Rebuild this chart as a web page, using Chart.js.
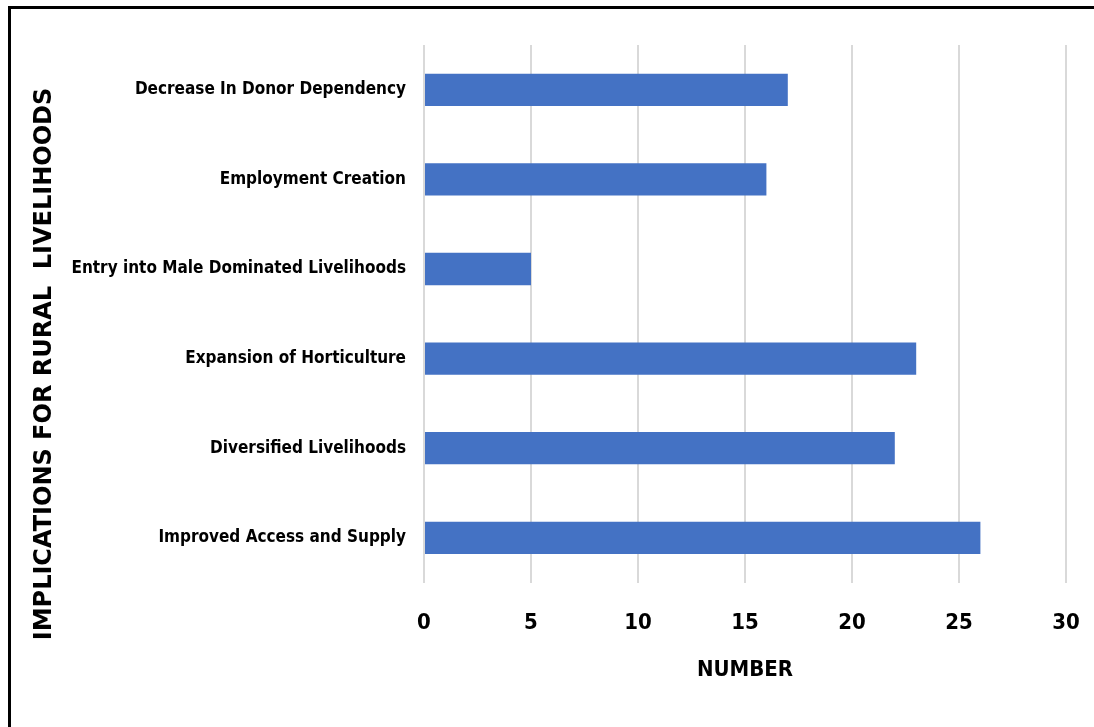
<!DOCTYPE html>
<html>
<head>
<meta charset="utf-8">
<script src="https://cdn.jsdelivr.net/npm/chart.js@4"></script>
<style>
  html, body { margin: 0; padding: 0; background: #fff; }
  #wrap { position: relative; width: 1094px; height: 727px; overflow: hidden; }
  #frame { position: absolute; left: 8px; top: 6px; width: 1200px; height: 900px;
           border-top: 3px solid #000; border-left: 3px solid #000; pointer-events: none; }
  canvas { position: absolute; left: 0; top: 0; }
</style>
</head>
<body>
<div id="wrap">
  <canvas id="c" width="1094" height="727"></canvas>
  <div id="frame"></div>
</div>
<script>
const categories = [
  "Decrease In Donor Dependency",
  "Employment Creation",
  "Entry into Male Dominated Livelihoods",
  "Expansion of Horticulture",
  "Diversified Livelihoods",
  "Improved Access and Supply"
];
const values = [17, 16, 5, 23, 22, 26];
const xTitle = "NUMBER";
const yTitle = "IMPLICATIONS FOR RURAL  LIVELIHOODS";

const labelFont = "'DejaVu Sans Condensed', 'Liberation Sans', sans-serif";

const titlesPlugin = {
  id: 'axisTitles',
  afterDraw(chart) {
    const ctx = chart.ctx;
    const area = chart.chartArea;
    ctx.save();
    ctx.fillStyle = '#000';
    ctx.textAlign = 'center';
    ctx.textBaseline = 'middle';
    ctx.font = "bold 22px " + labelFont;
    ctx.fillText(xTitle, (area.left + area.right) / 2, 670);
    ctx.translate(45, 364);
    ctx.rotate(-Math.PI / 2);
    ctx.font = "bold 24px 'DejaVu Sans', sans-serif";
    ctx.fillText(yTitle, 0, 0);
    ctx.restore();
  }
};

new Chart(document.getElementById('c'), {
  type: 'bar',
  data: {
    labels: categories,
    datasets: [{
      data: values,
      backgroundColor: '#4472C4',
      borderWidth: 0,
      categoryPercentage: 1,
      barPercentage: 0.36
    }]
  },
  options: {
    indexAxis: 'y',
    responsive: false,
    animation: false,
    layout: { padding: { top: 45, right: 28, bottom: 64, left: 60 } },
    plugins: { legend: { display: false }, tooltip: { enabled: false } },
    scales: {
      x: {
        min: 0, max: 30,
        afterFit(scale) { scale.paddingRight = 0; scale.paddingLeft = 0; },
        ticks: { stepSize: 5, color: '#000', padding: 27,
                 font: { family: labelFont, size: 22, weight: 'bold' } },
        grid: { color: '#d9d9d9', lineWidth: 2, drawTicks: false },
        border: { display: false }
      },
      y: {
        afterFit(scale) { scale.width = 364; },
        ticks: { color: '#000', padding: 18,
                 font: { family: labelFont, size: 17, weight: 'bold' } },
        grid: { display: false, drawTicks: false },
        border: { display: false }
      }
    }
  },
  plugins: [titlesPlugin]
});
</script>
</body>
</html>
